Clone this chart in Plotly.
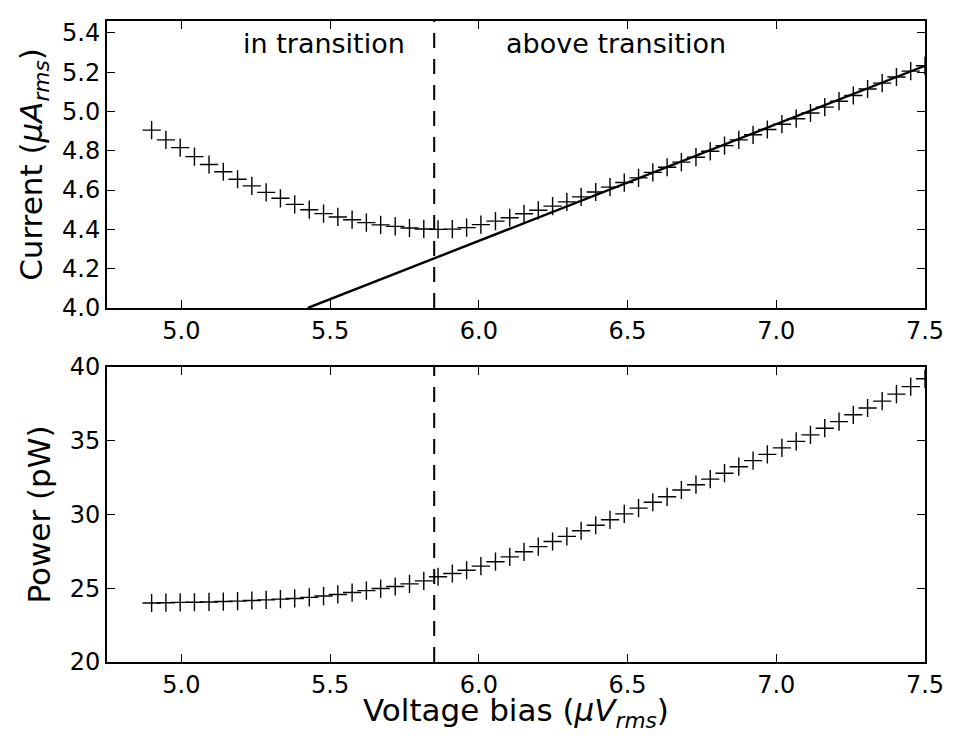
import plotly.graph_objects as go
from plotly.subplots import make_subplots

# ---- data ----
voltage = [4.900, 4.948, 4.996, 5.044, 5.093, 5.141, 5.189, 5.237, 5.285, 5.333,
           5.381, 5.430, 5.478, 5.526, 5.574, 5.622, 5.670, 5.719, 5.767, 5.815,
           5.863, 5.911, 5.959, 6.007, 6.056, 6.104, 6.152, 6.200, 6.248, 6.296,
           6.344, 6.393, 6.441, 6.489, 6.537, 6.585, 6.633, 6.681, 6.730, 6.778,
           6.826, 6.874, 6.922, 6.970, 7.019, 7.067, 7.115, 7.163, 7.211, 7.259,
           7.307, 7.356, 7.404, 7.452, 7.500]

current = [4.905, 4.855, 4.816, 4.770, 4.730, 4.693, 4.655, 4.621, 4.588, 4.558,
           4.527, 4.500, 4.480, 4.463, 4.449, 4.434, 4.423, 4.415, 4.407, 4.402,
           4.400, 4.401, 4.409, 4.424, 4.442, 4.459, 4.479, 4.497, 4.518, 4.540,
           4.565, 4.590, 4.615, 4.638, 4.662, 4.690, 4.716, 4.742, 4.767, 4.797,
           4.826, 4.855, 4.881, 4.908, 4.935, 4.963, 4.992, 5.022, 5.052, 5.081,
           5.114, 5.144, 5.175, 5.205, 5.232]

power = [24.00, 24.02, 24.04, 24.05, 24.07, 24.10, 24.13, 24.17, 24.21, 24.26,
         24.31, 24.38, 24.47, 24.58, 24.71, 24.84, 24.98, 25.12, 25.30, 25.50,
         25.78, 26.00, 26.22, 26.50, 26.80, 27.13, 27.47, 27.82, 28.17, 28.52,
         28.90, 29.27, 29.64, 30.04, 30.43, 30.83, 31.20, 31.66, 32.02, 32.40,
         32.80, 33.24, 33.65, 34.08, 34.52, 34.96, 35.40, 35.85, 36.30, 36.76,
         37.22, 37.69, 38.16, 38.67, 39.20]

fit_voltage = [5.425, 7.500]
fit_current = [4.000, 5.232]

transition_v = 5.85

x_ticks = [5.0, 5.5, 6.0, 6.5, 7.0, 7.5]
current_ticks = [4.0, 4.2, 4.4, 4.6, 4.8, 5.0, 5.2, 5.4]
power_ticks = [20, 25, 30, 35, 40]

FONT = "DejaVu Sans"
TITLE_SIZE = 31

fig = make_subplots(rows=2, cols=1, vertical_spacing=0.092)

marker = dict(symbol="cross-thin", size=13, line=dict(color="black", width=1.4), color="black")

fig.add_trace(go.Scatter(x=voltage, y=current, mode="markers", marker=marker,
                         showlegend=False), row=1, col=1)
fig.add_trace(go.Scatter(x=fit_voltage, y=fit_current, mode="lines",
                         line=dict(color="black", width=2.4), showlegend=False), row=1, col=1)
fig.add_trace(go.Scatter(x=voltage, y=power, mode="markers", marker=marker,
                         showlegend=False), row=2, col=1)

for r in (1, 2):
    fig.add_vline(x=transition_v, line=dict(color="black", width=2, dash="15px,11px"), row=r, col=1)

axis_common = dict(showline=True, linecolor="black", linewidth=2, mirror="allticks",
                   ticks="inside", ticklen=8, tickwidth=1.3, tickcolor="black",
                   showgrid=False, zeroline=False, automargin=False,
                   tickfont=dict(family=FONT, size=24, color="black"))

fig.update_xaxes(range=[4.75, 7.5], tickvals=x_ticks, tickformat=".1f", **axis_common)
fig.update_yaxes(**axis_common)

fig.update_yaxes(range=[4.0, 5.46], tickvals=current_ticks, tickformat=".1f",
                 title=dict(text="Current (<i>μA</i><sub><i>rms</i></sub>)",
                            font=dict(family=FONT, size=TITLE_SIZE, color="black"), standoff=10),
                 row=1, col=1)
fig.update_yaxes(range=[20, 40], tickvals=power_ticks,
                 title=dict(text="Power (pW)", font=dict(family=FONT, size=TITLE_SIZE, color="black"),
                            standoff=10),
                 row=2, col=1)

# x-axis title drawn as a paper-anchored annotation below the lower panel
fig.add_annotation(x=0.5, y=-0.079, xref="paper", yref="paper",
                   text="Voltage bias (<i>μV</i><sub><i>rms</i></sub>)",
                   showarrow=False, xanchor="center", yanchor="middle",
                   font=dict(family=FONT, size=TITLE_SIZE, color="black"))

fig.add_annotation(x=5.2, y=5.345, xref="x", yref="y", text="in transition",
                   showarrow=False, xanchor="left", yanchor="middle",
                   font=dict(family=FONT, size=27, color="black"))
fig.add_annotation(x=6.085, y=5.345, xref="x", yref="y", text="above transition",
                   showarrow=False, xanchor="left", yanchor="middle",
                   font=dict(family=FONT, size=27, color="black"))

fig.update_layout(width=953, height=736, margin=dict(l=107, r=28, t=21, b=74),
                  paper_bgcolor="white", plot_bgcolor="white",
                  font=dict(family=FONT, color="black"))
fig.update_yaxes(domain=[0.5523, 1.0], row=1, col=1)
fig.update_yaxes(domain=[0.0, 0.4602], row=2, col=1)

fig.write_html("out.html")
